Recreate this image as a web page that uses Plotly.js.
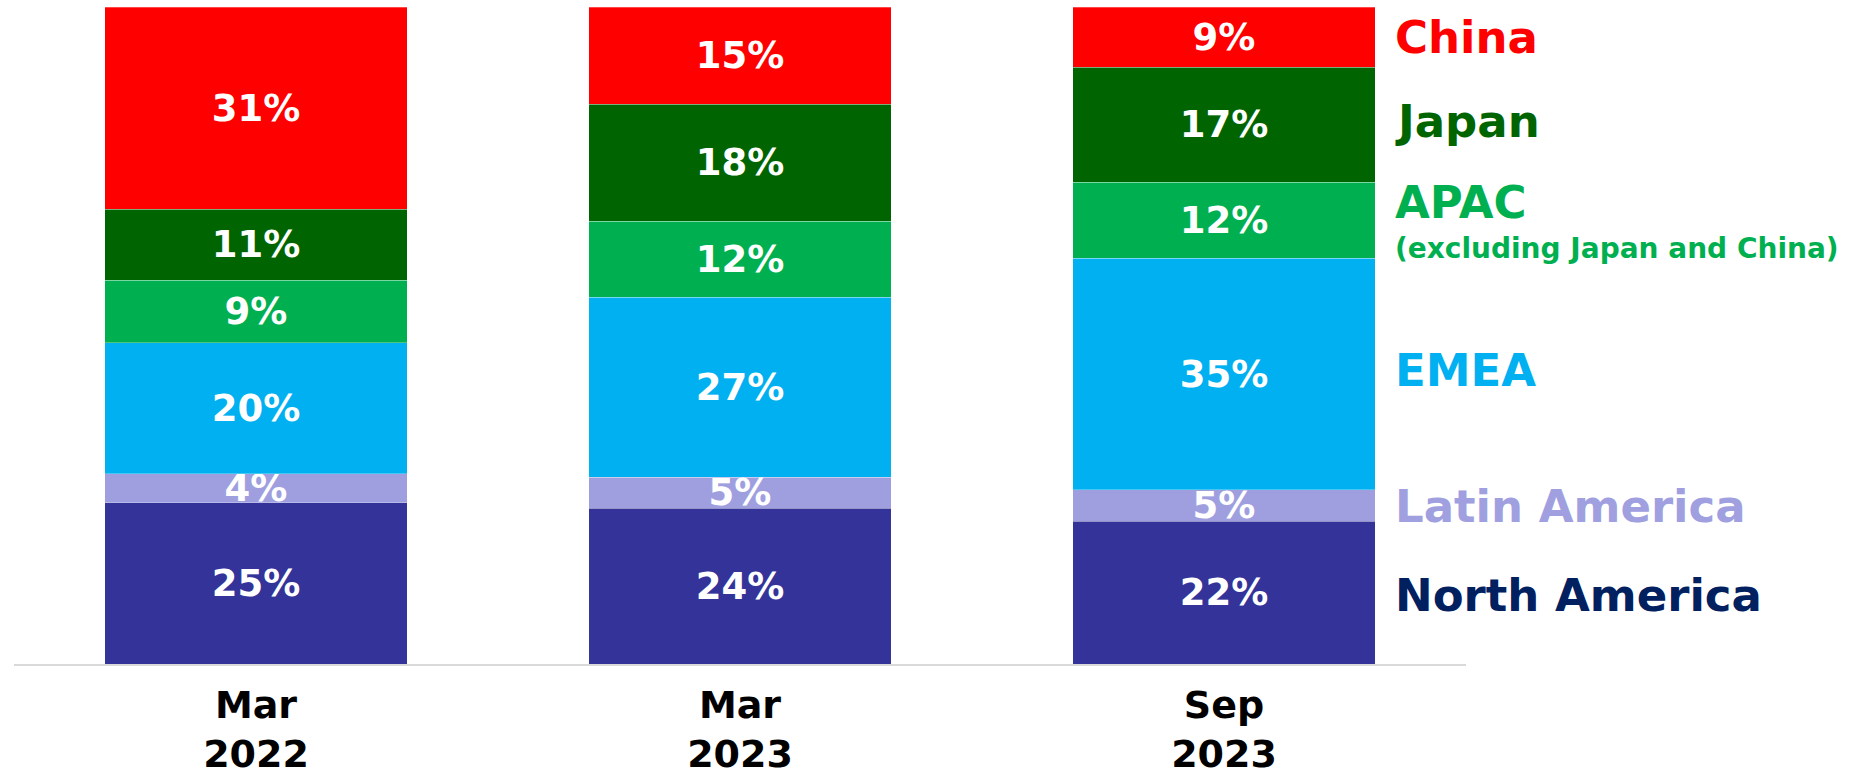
<!DOCTYPE html>
<html>
<head>
<meta charset="utf-8">
<script src="https://cdn.plot.ly/plotly-3.0.1.min.js"></script>
<style>
  html, body { margin: 0; padding: 0; background: #ffffff; }
  #chart { width: 1853px; height: 781px; }
</style>
</head>
<body>
<div id="chart"></div>
<script>
// Categories (x axis)
const periods = ["Mar<br>2022", "Mar<br>2023", "Sep<br>2023"];

// Regional shares (%), bottom to top
const northAmerica = [24.58, 23.71, 21.73];
const latinAmerica = [4.37, 4.68, 4.78];
const emea         = [19.96, 27.47, 35.24];
const apac         = [9.49, 11.53, 11.58];
const japan        = [10.78, 17.78, 17.48];
const china        = [30.82, 14.83, 9.19];

const seriesNames  = ["North America", "Latin America", "EMEA", "APAC", "Japan", "China"];
const seriesValues = [northAmerica, latinAmerica, emea, apac, japan, china];
const barColors    = ["#333399", "#9F9FDF", "#00B0F0", "#00B050", "#006400", "#FF0000"];
const labelColors  = ["#002060", "#A0A0E0", "#00B0F0", "#00B050", "#006400", "#FF0000"];

// Right-hand labels
const sideLabels = ["North America", "Latin America", "EMEA", "APAC", "Japan", "China"];
const apacNote = "(excluding Japan and China)";

const FONT = "'DejaVu Sans', Verdana, sans-serif";

const traces = seriesNames.map((name, i) => ({
  type: "bar",
  name: name,
  x: periods,
  y: seriesValues[i],
  marker: { color: barColors[i], line: { color: "rgba(255,255,255,0.35)", width: 0.8 } },
  texttemplate: "<b>%{y:.0f}%</b>",
  textposition: "inside",
  insidetextanchor: "middle",
  constraintext: "none",
  textangle: 0,
  textfont: { family: FONT, size: 37, color: "#ffffff" },
  hoverinfo: "skip",
  showlegend: false
}));

const labelY = [0.105, 0.239, 0.446, 0.703, 0.825, 0.954];
const annotations = sideLabels.map((t, i) => ({
  xref: "paper", yref: "paper",
  x: 0.9497, y: labelY[i],
  xanchor: "left", yanchor: "middle",
  text: "<b>" + t + "</b>",
  showarrow: false,
  font: { family: FONT, size: 45, color: labelColors[i] }
}));
annotations.push({
  xref: "paper", yref: "paper",
  x: 0.9497, y: 0.6317,
  xanchor: "left", yanchor: "middle",
  text: "<b>" + apacNote + "</b>",
  showarrow: false,
  font: { family: FONT, size: 28, color: labelColors[3] }
});

const layout = {
  width: 1853,
  height: 781,
  margin: { l: 14, r: 387, t: 7, b: 117 },
  paper_bgcolor: "#ffffff",
  plot_bgcolor: "#ffffff",
  barmode: "stack",
  bargap: 0.376,
  showlegend: false,
  xaxis: {
    type: "category",
    range: [-0.5, 2.5],
    showline: true,
    linecolor: "#D9D9D9",
    linewidth: 2,
    ticks: "",
    ticklabelstandoff: 6,
    showgrid: false,
    zeroline: false,
    tickfont: { family: FONT, size: 38, color: "#000000", weight: "bold" }
  },
  yaxis: {
    range: [0, 100],
    showticklabels: false,
    showgrid: false,
    zeroline: false,
    showline: false,
    ticks: ""
  },
  annotations: annotations
};

Plotly.newPlot("chart", traces, layout, { displayModeBar: false, staticPlot: true });
</script>
</body>
</html>
